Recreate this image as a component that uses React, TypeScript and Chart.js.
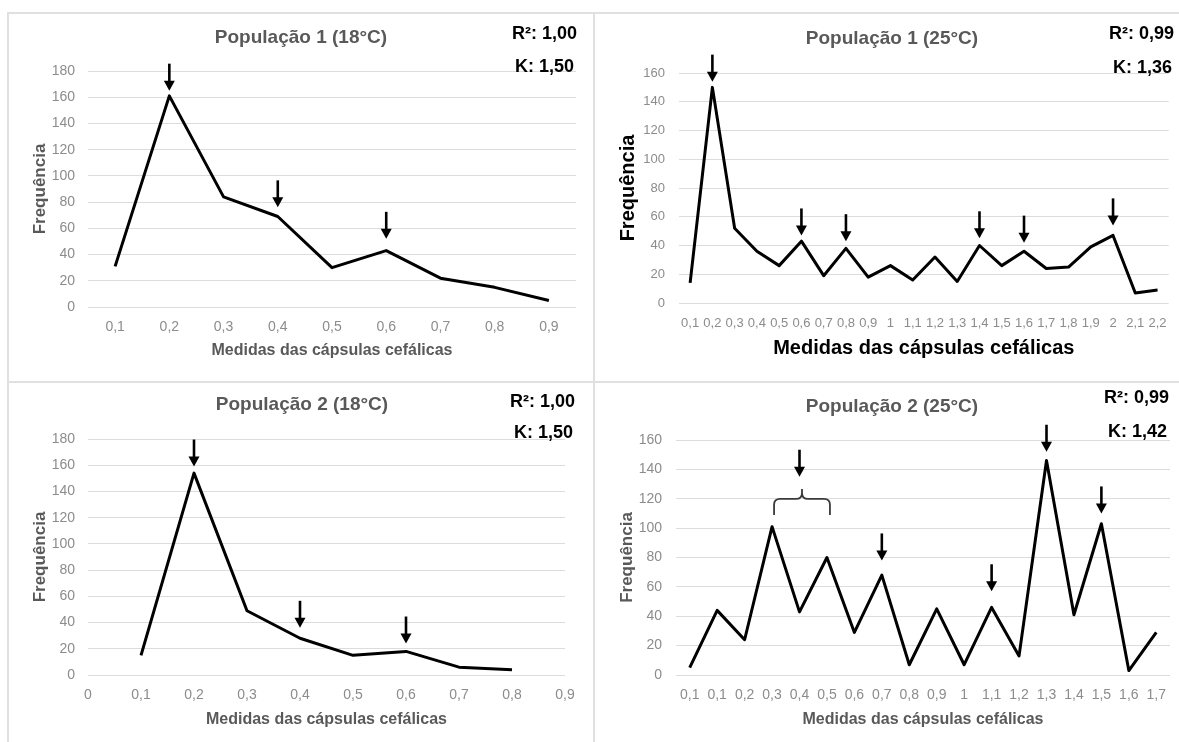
import React, { useEffect, useRef } from 'react';
import { Chart, registerables } from 'chart.js';

Chart.register(...registerables);

// ---------- DATA ----------
const p1Labels = ['0,1', '0,2', '0,3', '0,4', '0,5', '0,6', '0,7', '0,8', '0,9'];
const p1Values = [31, 161, 84, 69, 30, 43, 22, 15, 5];
const p1ArrowIdx = [1, 3, 5];
const p1ArrowTip = [165, 76, 52];

const p2Labels = ['0,1', '0,2', '0,3', '0,4', '0,5', '0,6', '0,7', '0,8', '0,9', '1', '1,1', '1,2', '1,3', '1,4', '1,5', '1,6', '1,7', '1,8', '1,9', '2', '2,1', '2,2'];
const p2Values = [14, 150, 52, 36, 26, 43, 19, 38, 18, 26, 16, 32, 15, 40, 26, 36, 24, 25, 39, 47, 7, 9];
const p2ArrowIdx = [1, 5, 7, 13, 15, 19];
const p2ArrowTip = [154, 47, 43, 45, 42, 54];

const p3X = [0.1, 0.2, 0.3, 0.4, 0.5, 0.6, 0.7, 0.8];
const p3Values = [15, 154, 49, 28, 15, 18, 6, 4];
const p3ArrowX = [0.2, 0.4, 0.6];
const p3ArrowTip = [159, 36, 24];

const p4Labels = ['0,1', '0,1', '0,2', '0,3', '0,4', '0,5', '0,6', '0,7', '0,8', '0,9', '1', '1,1', '1,2', '1,3', '1,4', '1,5', '1,6', '1,7'];
const p4Values = [5, 44, 24, 101, 43, 80, 29, 68, 7, 45, 7, 46, 13, 146, 41, 103, 3, 29];
const p4ArrowIdx = [4, 7, 11, 13, 15];
const p4ArrowTip = [135, 78, 57, 152, 110];
const p4BraceFrom = 3;
const p4BraceTo = 5;
const p4BraceBase = 109;

const titles = ['População 1 (18°C)', 'População 1 (25°C)', 'População 2 (18°C)', 'População 2 (25°C)'];
const r2Texts = ['R²: 1,00', 'R²: 0,99', 'R²: 1,00', 'R²: 0,99'];
const kTexts = ['K: 1,50', 'K: 1,36', 'K: 1,50', 'K: 1,42'];
const xTitle = 'Medidas das cápsulas cefálicas';
const yTitle = 'Frequência';

// ---------- STYLE ----------
const W = 1179;
const H = 742;
const FONT = '"Liberation Sans", Arial, Helvetica, sans-serif';
const GRAY_TEXT = '#595959';
const TICK_GRAY = '#8c8c8c';
const GRID = '#dcdcdc';

const annotPlugin = {
  id: 'annot',
  afterDatasetsDraw(chart: any) {
    const o = chart.options.plugins.annot;
    if (!o) return;
    const ctx = chart.ctx;
    const xs = chart.scales.x;
    const ys = chart.scales.y;
    ctx.save();
    // title
    ctx.font = `bold 19px ${FONT}`;
    ctx.fillStyle = GRAY_TEXT;
    ctx.textAlign = 'center';
    ctx.textBaseline = 'middle';
    ctx.fillText(o.title, o.titleX, o.titleY);
    // R2 / K
    ctx.font = `bold 18px ${FONT}`;
    ctx.fillStyle = '#000';
    ctx.textAlign = 'left';
    ctx.fillText(o.r2, o.r2X, o.r2Y);
    ctx.fillText(o.k, o.kX, o.kY);
    // arrows
    ctx.fillStyle = '#000';
    ctx.strokeStyle = '#000';
    for (const a of o.arrows) {
      const x = xs.getPixelForValue(a.x);
      const tip = ys.getPixelForValue(a.tip);
      const len = 27;
      const hh = 10;
      const hw = 11;
      ctx.lineWidth = 2.6;
      ctx.beginPath();
      ctx.moveTo(x, tip - len);
      ctx.lineTo(x, tip - hh + 1);
      ctx.stroke();
      ctx.beginPath();
      ctx.moveTo(x - hw / 2, tip - hh);
      ctx.lineTo(x + hw / 2, tip - hh);
      ctx.lineTo(x, tip);
      ctx.closePath();
      ctx.fill();
    }
    // brace
    if (o.brace) {
      const x1 = xs.getPixelForValue(o.brace.from) + 2;
      const x2 = xs.getPixelForValue(o.brace.to) + 3;
      const yb = ys.getPixelForValue(o.brace.base);
      const xm = (x1 + x2) / 2;
      const yh = yb - 16;
      const yp = yb - 26;
      const r = 6;
      ctx.strokeStyle = '#3a3a3a';
      ctx.lineWidth = 1.8;
      ctx.beginPath();
      ctx.moveTo(x1, yb);
      ctx.lineTo(x1, yh + r);
      ctx.quadraticCurveTo(x1, yh, x1 + r, yh);
      ctx.lineTo(xm - r, yh);
      ctx.quadraticCurveTo(xm, yh, xm, yh - r);
      ctx.lineTo(xm, yp);
      ctx.moveTo(xm, yh - r);
      ctx.quadraticCurveTo(xm, yh, xm + r, yh);
      ctx.lineTo(x2 - r, yh);
      ctx.quadraticCurveTo(x2, yh, x2, yh + r);
      ctx.lineTo(x2, yb);
      ctx.stroke();
    }
    ctx.restore();
  },
};

type PanelCfg = {
  xType: 'category' | 'linear';
  labels?: string[];
  data: any[];
  yMax: number;
  area: { left: number; right: number; top: number; bottom: number };
  yTitleX: number;
  yTitleSize: number;
  xTitleY: number;
  xTitleSize: number;
  axisTitleColor: string;
  tickSize: number;
  yTickGap: number;
  xTickY: number;
  annot: any;
};

function buildConfig(p: PanelCfg): any {
  const lhY = p.yTitleSize * 1.2;
  const lhX = p.xTitleSize * 1.2;
  const lhT = p.tickSize * 1.2;
  const padLeft = p.yTitleX - lhY / 2;
  const yWidth = p.area.left - padLeft;
  const xHeight = p.xTitleY + lhX / 2 - p.area.bottom;
  const padBottom = H - p.area.bottom - xHeight;
  const xTickPad = p.xTickY - p.area.bottom - lhT / 2;

  const xScale: any = {
    type: p.xType,
    offset: p.xType === 'category',
    grid: { display: false, drawTicks: false, offset: false },
    border: { display: false },
    ticks: {
      autoSkip: false,
      maxRotation: 0,
      minRotation: 0,
      padding: xTickPad,
      color: TICK_GRAY,
      font: { family: FONT, size: p.tickSize },
    },
    title: {
      display: true,
      text: xTitle,
      color: p.axisTitleColor,
      font: { family: FONT, size: p.xTitleSize, weight: 'bold' },
      padding: 0,
    },
    afterFit: (s: any) => {
      s.height = xHeight;
    },
  };
  if (p.xType === 'linear') {
    xScale.min = 0;
    xScale.max = 0.9;
    xScale.ticks.stepSize = 0.1;
    xScale.ticks.callback = (v: number) => (v === 0 ? '0' : Number(v).toFixed(1).replace('.', ','));
  }

  return {
    type: 'line',
    data: {
      labels: p.labels,
      datasets: [
        {
          data: p.data,
          borderColor: '#000',
          borderWidth: 3,
          pointRadius: 0,
          tension: 0,
          fill: false,
          borderJoinStyle: 'round',
        },
      ],
    },
    options: {
      responsive: false,
      animation: false,
      devicePixelRatio: 1,
      events: [],
      layout: {
        autoPadding: false,
        padding: {
          left: padLeft,
          right: W - p.area.right,
          top: p.area.top,
          bottom: padBottom,
        },
      },
      scales: {
        x: xScale,
        y: {
          type: 'linear',
          min: 0,
          max: p.yMax,
          grid: { color: GRID, lineWidth: 1, drawTicks: false },
          border: { display: false },
          ticks: {
            stepSize: 20,
            padding: p.yTickGap,
            color: TICK_GRAY,
            font: { family: FONT, size: p.tickSize },
          },
          title: {
            display: true,
            text: yTitle,
            color: p.axisTitleColor,
            font: { family: FONT, size: p.yTitleSize, weight: 'bold' },
            padding: 0,
          },
          afterFit: (s: any) => {
            s.width = yWidth;
          },
        },
      },
      plugins: {
        legend: { display: false },
        tooltip: { enabled: false },
        title: { display: false },
        annot: p.annot,
      },
    },
    plugins: [annotPlugin],
  };
}

const panels: PanelCfg[] = [
  {
    xType: 'category',
    labels: p1Labels,
    data: p1Values,
    yMax: 180,
    area: { left: 88, right: 576, top: 71, bottom: 307 },
    yTitleX: 40,
    yTitleSize: 17,
    xTitleY: 351,
    xTitleSize: 16,
    axisTitleColor: GRAY_TEXT,
    tickSize: 14,
    yTickGap: 13,
    xTickY: 327,
    annot: {
      title: titles[0], titleX: 301, titleY: 38,
      r2: r2Texts[0], r2X: 512, r2Y: 34,
      k: kTexts[0], kX: 515, kY: 67,
      arrows: p1ArrowIdx.map((x, i) => ({ x, tip: p1ArrowTip[i] })),
    },
  },
  {
    xType: 'category',
    labels: p2Labels,
    data: p2Values,
    yMax: 160,
    area: { left: 679, right: 1170, top: 73, bottom: 303 },
    yTitleX: 628.5,
    yTitleSize: 20,
    xTitleY: 348,
    xTitleSize: 20,
    axisTitleColor: '#000',
    tickSize: 13,
    yTickGap: 14,
    xTickY: 323,
    annot: {
      title: titles[1], titleX: 892, titleY: 39,
      r2: r2Texts[1], r2X: 1109, r2Y: 34,
      k: kTexts[1], kX: 1113, kY: 68,
      arrows: p2ArrowIdx.map((x, i) => ({ x, tip: p2ArrowTip[i] })),
    },
  },
  {
    xType: 'linear',
    data: p3X.map((x, i) => ({ x, y: p3Values[i] })),
    yMax: 180,
    area: { left: 88, right: 565, top: 439, bottom: 675 },
    yTitleX: 40,
    yTitleSize: 17,
    xTitleY: 720,
    xTitleSize: 16,
    axisTitleColor: GRAY_TEXT,
    tickSize: 14,
    yTickGap: 13,
    xTickY: 695,
    annot: {
      title: titles[2], titleX: 302, titleY: 405,
      r2: r2Texts[2], r2X: 510, r2Y: 402,
      k: kTexts[2], kX: 514, kY: 433,
      arrows: p3ArrowX.map((x, i) => ({ x, tip: p3ArrowTip[i] })),
    },
  },
  {
    xType: 'category',
    labels: p4Labels,
    data: p4Values,
    yMax: 160,
    area: { left: 676, right: 1170, top: 440, bottom: 675 },
    yTitleX: 627,
    yTitleSize: 17,
    xTitleY: 720,
    xTitleSize: 16,
    axisTitleColor: GRAY_TEXT,
    tickSize: 14,
    yTickGap: 14,
    xTickY: 695,
    annot: {
      title: titles[3], titleX: 892, titleY: 407,
      r2: r2Texts[3], r2X: 1104, r2Y: 398,
      k: kTexts[3], kX: 1108, kY: 432,
      arrows: p4ArrowIdx.map((x, i) => ({ x, tip: p4ArrowTip[i] })),
      brace: { from: p4BraceFrom, to: p4BraceTo, base: p4BraceBase },
    },
  },
];

const lineStyle = (s: any): React.CSSProperties => ({ position: 'absolute', background: '#e0e0e0', ...s });

export default function App() {
  const refs = [useRef<HTMLCanvasElement>(null), useRef<HTMLCanvasElement>(null), useRef<HTMLCanvasElement>(null), useRef<HTMLCanvasElement>(null)];

  useEffect(() => {
    const charts = panels.map((p, i) => new Chart(refs[i].current as HTMLCanvasElement, buildConfig(p)));
    return () => charts.forEach((c) => c.destroy());
  }, []);

  return (
    <div style={{ position: 'fixed', left: 0, top: 0, width: W, height: H, background: '#fff', overflow: 'hidden' }}>
      <div style={lineStyle({ left: 7, top: 12, width: W - 7, height: 2 })} />
      <div style={lineStyle({ left: 7, top: 12, width: 2, height: H - 12 })} />
      <div style={lineStyle({ left: 593, top: 12, width: 2, height: H - 12 })} />
      <div style={lineStyle({ left: 7, top: 381, width: W - 7, height: 2 })} />
      {refs.map((r, i) => (
        <canvas
          key={i}
          ref={r}
          width={W}
          height={H}
          style={{ position: 'absolute', left: 0, top: 0, width: W, height: H }}
        />
      ))}
    </div>
  );
}
